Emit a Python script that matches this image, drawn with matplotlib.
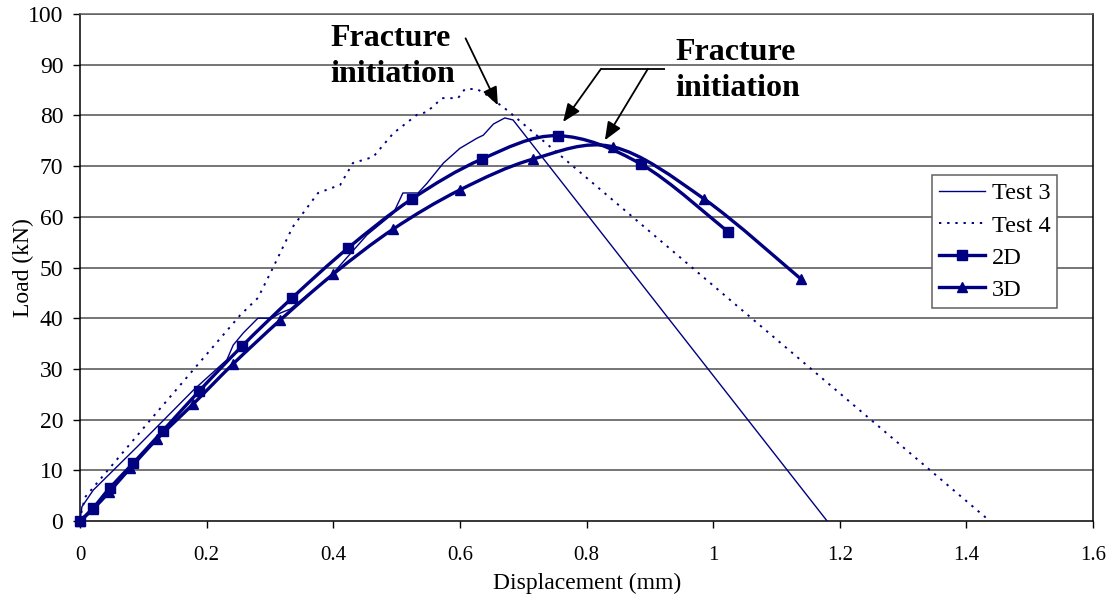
import numpy as np
import matplotlib
matplotlib.use("Agg")
import matplotlib.pyplot as plt
from matplotlib.path import Path
from matplotlib.patches import PathPatch
from matplotlib.lines import Line2D

plt.rcParams['font.family'] = ['Liberation Serif', 'DejaVu Serif']

NAVY = '#000080'

# measured load-displacement curves
test3_x = [0.0, 0.003, 0.021, 0.09, 0.179, 0.232, 0.242, 0.258, 0.281, 0.303, 0.316,
           0.332, 0.363, 0.39, 0.446, 0.453, 0.495, 0.51, 0.534, 0.548, 0.574, 0.60,
           0.627, 0.637, 0.653, 0.671, 0.684, 1.18]
test3_y = [0.0, 2.8, 6.1, 14.6, 25.8, 31.8, 34.7, 37.1, 40.0, 40.0, 41.0,
           41.8, 45.0, 47.5, 55.4, 56.4, 60.7, 64.7, 64.7, 66.6, 70.6, 73.5,
           75.5, 76.1, 78.3, 79.5, 79.1, 0.0]

test4_x = [0.0, 0.003, 0.008, 0.115, 0.253, 0.281, 0.305, 0.336, 0.376, 0.411, 0.431,
           0.463, 0.495, 0.532, 0.548, 0.572, 0.597, 0.608, 0.627, 0.643, 0.675, 1.437]
test4_y = [0.0, 2.2, 4.7, 20.5, 40.6, 44.0, 50.0, 58.0, 64.7, 66.3, 70.6,
           71.8, 76.5, 80.1, 80.7, 83.4, 83.4, 85.2, 85.2, 84.0, 81.0, 0.0]

# simulations
fe2d_x = [0.0, 0.021, 0.047, 0.084, 0.131, 0.188, 0.256, 0.335, 0.423, 0.524,
          0.635, 0.755, 0.886, 1.024]
fe2d_y = [0.0, 2.6, 6.5, 11.4, 17.8, 25.6, 34.5, 44.0, 53.8, 63.5,
          71.4, 76.0, 70.4, 57.0]

fe3d_x = [0.0, 0.02, 0.046, 0.079, 0.122, 0.179, 0.242, 0.316, 0.40, 0.495,
          0.60, 0.716, 0.842, 0.986, 1.139]
fe3d_y = [0.0, 2.3, 5.7, 10.4, 16.2, 23.1, 31.0, 39.6, 48.7, 57.6,
          65.3, 71.4, 73.8, 63.5, 47.7]

x_ticks = [0, 0.2, 0.4, 0.6, 0.8, 1, 1.2, 1.4, 1.6]
x_tick_labels = ['0', '0.2', '0.4', '0.6', '0.8', '1', '1.2', '1.4', '1.6']
y_ticks = list(range(0, 101, 10))


def smooth_path(xs, ys):
    # spreadsheet-style smoothed line: cubic Bezier segments through every point
    p = np.column_stack([xs, ys]).astype(float)
    n = len(p)
    verts = [p[0]]
    codes = [Path.MOVETO]
    for i in range(n - 1):
        p0 = p[i - 1] if i > 0 else p[i]
        p3 = p[i + 2] if i + 2 < n else p[i + 1]
        c1 = p[i] + (p[i + 1] - p0) / 6.0
        c2 = p[i + 1] - (p3 - p[i]) / 6.0
        verts += [c1, c2, p[i + 1]]
        codes += [Path.CURVE4] * 3
    return Path(verts, codes)


fig = plt.figure(figsize=(11.16, 5.98), dpi=100)
ax = fig.add_axes([80 / 1116, 1 - 521 / 598, 1013 / 1116, 507 / 598])

ax.set_xlim(0, 1.6)
ax.set_ylim(0, 100)
ax.set_xticks(x_ticks)
ax.set_xticklabels(x_tick_labels)
ax.set_yticks(y_ticks)
ax.tick_params(axis='x', direction='out', length=5, width=1, labelsize=15, pad=13)
ax.tick_params(axis='y', direction='out', length=5, width=1, labelsize=17, pad=7)

for y in y_ticks[1:]:
    ax.axhline(y, color='#505050', lw=1.1, zorder=1)
for s in ax.spines.values():
    s.set_linewidth(1.1)
    s.set_color('black')
ax.spines['top'].set_color('#606060')

ax.plot(test3_x, test3_y, color=NAVY, lw=1.0, zorder=3)
ax.plot(test4_x, test4_y, color=NAVY, lw=1.4, linestyle=(0, (1.2, 3.0)), zorder=3)

for xs, ys, mk, ms in [(fe2d_x, fe2d_y, 's', 6.5), (fe3d_x, fe3d_y, '^', 7)]:
    ax.add_patch(PathPatch(smooth_path(xs, ys), fill=False, edgecolor=NAVY,
                           lw=2.4, zorder=4, capstyle='round'))
    ax.plot(xs, ys, linestyle='none', marker=mk, ms=ms, color=NAVY, zorder=5,
            clip_on=False)

handles = [
    Line2D([], [], color=NAVY, lw=1.0),
    Line2D([], [], color=NAVY, lw=1.4, linestyle=(0, (1.2, 3.0))),
    Line2D([], [], color=NAVY, lw=2.4, marker='s', ms=6.5),
    Line2D([], [], color=NAVY, lw=2.4, marker='^', ms=7),
]
leg = ax.legend(handles, ['Test 3', 'Test 4', '2D', '3D'], loc='upper left',
                bbox_to_anchor=((932 - 80) / 1013, (521 - 175) / 507),
                borderaxespad=0, fontsize=17.5, frameon=True, fancybox=False,
                edgecolor='#606060', framealpha=1, handlelength=1.9,
                handletextpad=0.25, labelspacing=0.42, borderpad=0.3)
leg.get_frame().set_linewidth(1.1)
leg.set_zorder(6)

# annotations
txt = dict(fontsize=23, fontweight='bold', va='top', ha='left', linespacing=1.3,
           zorder=7)
ax.text(0.395, 98.0, 'Fracture\ninitiation', **txt)
ax.text(0.940, 95.2, 'Fracture\ninitiation', **txt)

arrow = dict(arrowstyle='-|>,head_length=1.1,head_width=0.45', color='black',
             lw=1.3, shrinkA=0, shrinkB=0)
ax.annotate('', xy=(0.660, 82.0), xytext=(0.609, 95.2), arrowprops=arrow)
ax.plot([0.823, 0.924], [89.2, 89.2], color='black', lw=1.3, solid_capstyle='butt')
ax.annotate('', xy=(0.763, 78.7), xytext=(0.823, 89.2), arrowprops=arrow)
ax.annotate('', xy=(0.829, 75.1), xytext=(0.897, 89.2), arrowprops=arrow)

ax.set_ylabel('Load (kN)', fontsize=17)
ax.yaxis.set_label_coords(-46 / 1013, 0.5)
fig.text(587 / 1116, 1 - 589 / 598, 'Displacement (mm)', fontsize=17,
         ha='center', va='baseline')

fig.savefig('out.png', dpi=100)
